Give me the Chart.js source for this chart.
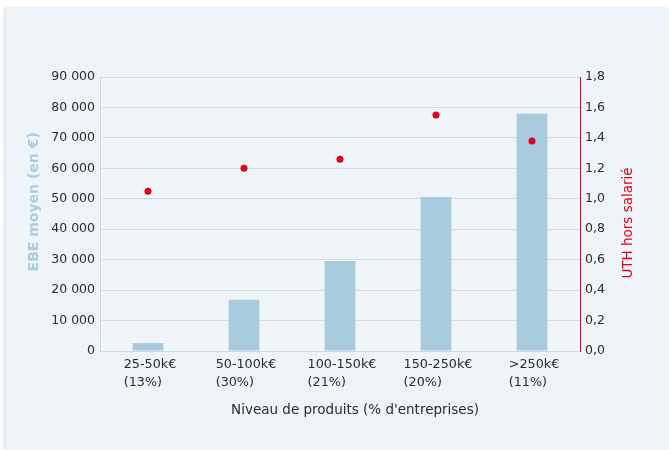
<!DOCTYPE html>
<html>
<head>
<meta charset="utf-8">
<script src="https://cdn.jsdelivr.net/npm/chart.js@4"></script>
<style>
  body { margin: 0; background: #fff; }
  #panel {
    position: absolute; left: 6px; top: 8px; width: 663px; height: 442px;
    background: #eff4f8; box-shadow: -2px 0 3px rgba(0,0,0,0.12);
  }
  canvas { display: block; }
</style>
</head>
<body>
<div id="panel"><canvas id="chart" width="663" height="442"></canvas></div>
<script>
const rangeLabels = ['25-50k€', '50-100k€', '100-150k€', '150-250k€', '>250k€'];
const shareLabels = ['(13%)', '(30%)', '(21%)', '(20%)', '(11%)'];
const ebeValues = [2600, 16800, 29600, 50600, 77900];
const uthValues = [1.05, 1.2, 1.26, 1.55, 1.38];
const rightTitle = 'UTH hors salarié';

const labels = rangeLabels.map((r, i) => [r, shareLabels[i]]);
const FONT = '"DejaVu Sans", Verdana, sans-serif';

// x tick labels: left aligned lines inside a centred block
// right axis title: read bottom-to-top like the left one
const customText = {
  id: 'customText',
  afterDraw(chart) {
    const sc = chart.scales.x;
    const r = chart.scales.y1;
    const ctx = chart.ctx;
    ctx.save();
    ctx.font = '12.75px ' + FONT;
    ctx.fillStyle = '#2b2b2b';
    ctx.textAlign = 'left';
    ctx.textBaseline = 'middle';
    labels.forEach((lines, i) => {
      const w = Math.max(...lines.map(l => ctx.measureText(l).width));
      const x = sc.getPixelForTick(i) - w / 2 + 2;
      lines.forEach((l, j) => ctx.fillText(l, x, sc.top + 14 + j * 18));
    });
    ctx.translate(r.right - 40.5, (r.top + r.bottom) / 2 + 9);
    ctx.rotate(-Math.PI / 2);
    ctx.font = '13.5px ' + FONT;
    ctx.fillStyle = '#e2001a';
    ctx.textAlign = 'center';
    ctx.fillText(rightTitle, 0, 0);
    ctx.restore();
  }
};

const ctx = document.getElementById('chart').getContext('2d');

new Chart(ctx, {
  type: 'bar',
  data: {
    labels: labels,
    datasets: [
      {
        type: 'line',
        label: rightTitle,
        data: uthValues,
        yAxisID: 'y1',
        showLine: false,
        pointRadius: 3.5,
        pointHoverRadius: 3.5,
        pointBackgroundColor: '#e2001a',
        pointBorderWidth: 0,
        order: 0
      },
      {
        label: 'EBE moyen (en €)',
        data: ebeValues,
        yAxisID: 'y',
        backgroundColor: '#a8cadd',
        categoryPercentage: 1,
        barPercentage: 0.32,
        order: 1
      }
    ]
  },
  options: {
    responsive: false,
    animation: false,
    layout: { padding: { top: 69, left: 0, right: 0, bottom: 0 } },
    plugins: { legend: { display: false }, tooltip: { enabled: false } },
    scales: {
      x: {
        grid: { display: false, drawTicks: false },
        border: { color: '#c9dce8' },
        ticks: { color: 'transparent', font: { family: FONT, size: 12.75, lineHeight: 1.5 } },
        title: {
          display: true,
          text: '       Niveau de produits (% d\'entreprises)',
          color: '#2b2b2b',
          font: { family: FONT, size: 13.5 },
          padding: { top: 4, bottom: 31 }
        },
        afterFit: s => { s.height = 99; }
      },
      y: {
        position: 'left',
        min: 0, max: 90000,
        grid: { color: '#d8dbdd', drawTicks: false },
        border: { color: '#c9dce8' },
        ticks: {
          stepSize: 10000, padding: 5, color: '#2b2b2b',
          font: { family: FONT, size: 12.5 },
          callback: v => String(v).replace(/\B(?=(\d{3})+(?!\d))/g, ' ')
        },
        title: {
          display: true,
          text: '     EBE moyen (en €)',
          color: '#aacde2',
          font: { family: FONT, size: 14, weight: 'bold' },
          padding: { top: 20, bottom: 4 }
        },
        afterFit: s => { s.width = 94; }
      },
      y1: {
        position: 'right',
        min: 0, max: 1.8,
        grid: { drawOnChartArea: false, drawTicks: false },
        border: { color: '#e2001a' },
        ticks: {
          stepSize: 0.2, padding: 5, color: '#2b2b2b',
          font: { family: FONT, size: 12.5 },
          callback: v => v.toFixed(1).replace('.', ',')
        },
        afterFit: s => { s.width = 89; }
      }
    }
  },
  plugins: [customText]
});
</script>
</body>
</html>
